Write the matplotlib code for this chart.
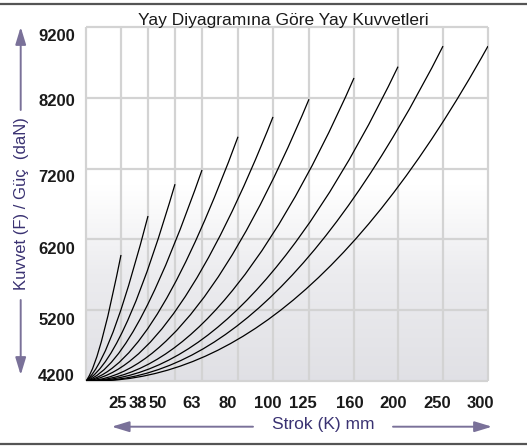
import numpy as np
import matplotlib.pyplot as plt
from matplotlib.path import Path
from matplotlib.patches import PathPatch
from matplotlib.lines import Line2D

plt.rcParams['font.family'] = ['Liberation Sans', 'DejaVu Sans']

# stroke sizes (mm) and spring force (daN)
strokes = ['25', '38', '50', '63', '80', '100', '125', '160', '200', '250', '300']
force_start = 4200
force_third = [4580, 4670, 4710, 4710, 4730, 4720, 4690, 4680, 4670, 4670, 4650]
force_two_thirds = [5210, 5490, 5680, 5760, 5930, 6000, 6040, 6100, 6130, 6220, 6180]
force_end = [5980, 6530, 6980, 7180, 7650, 7930, 8180, 8480, 8640, 8930, 8930]
force_ticks = [4200, 5200, 6200, 7200, 8200, 9200]

# uneven horizontal layout of the original grid
grid_x = [0, 35, 62, 89, 116, 152, 187, 223, 268, 312, 357, 402]
label_x = [31.5, 51.5, 72, 106, 142, 181.5, 217, 264, 307, 351, 394]
label_y = [4285, 5080, 6080, 7100, 8170, 9088]

TEXT_C = '#3a3272'
ARROW_C = '#7a7199'
GRID_C = '#d3d3d3'


def _curve(ax, x_end, f1, f2, f_end):
    """Cubic bezier from the start force through the 1/3 and 2/3 readings."""
    p0 = np.array([0.0, force_start])
    p3 = np.array([x_end, f_end])
    q1 = np.array([x_end / 3, f1])
    q2 = np.array([2 * x_end / 3, f2])
    a = 27 * q1 - 8 * p0 - p3
    b = 27 * q2 - p0 - 8 * p3
    p1 = (2 * a - b) / 18
    p2 = (2 * b - a) / 18
    path = Path([p0, p1, p2, p3], [Path.MOVETO, Path.CURVE4, Path.CURVE4, Path.CURVE4])
    ax.add_patch(PathPatch(path, fill=False, color='black', lw=0.9, zorder=3))


def _arrow(ax, tail, tip):
    ax.annotate('', xy=tip, xytext=tail, xycoords='figure pixels',
                textcoords='figure pixels',
                arrowprops=dict(arrowstyle='-|>,head_length=1.05,head_width=0.32',
                                color=ARROW_C, lw=1.4, shrinkA=0, shrinkB=0,
                                mutation_scale=10))


fig = plt.figure(figsize=(5.27, 4.46), dpi=100)
ax = fig.add_axes([86 / 527, 65 / 446, 402 / 527, 354 / 446])
ax.set_xlim(grid_x[0], grid_x[-1])
ax.set_ylim(force_ticks[0], force_ticks[-1])
ax.set_frame_on(False)

# background gradient: white on top, light grey at the bottom
f = np.linspace(0, 1, 256)
g = np.interp(f, [0, 0.3, 0.55, 1], [0.88, 0.925, 1.0, 1.0])
rgb = np.dstack([g, g, g + (1 - g) * 0.15]).reshape(256, 1, 3)
ax.imshow(rgb, extent=[grid_x[0], grid_x[-1], force_ticks[0], force_ticks[-1]],
          origin='lower', aspect='auto', zorder=0)

ax.vlines(grid_x, force_ticks[0], force_ticks[-1], colors=GRID_C, lw=1.6,
          zorder=1, clip_on=False)
ax.hlines(force_ticks, grid_x[0], grid_x[-1], colors=GRID_C, lw=1.6,
          zorder=1, clip_on=False)

for i in range(len(strokes)):
    _curve(ax, grid_x[i + 1], force_third[i], force_two_thirds[i], force_end[i])

ax.set_xticks(label_x, strokes)
ax.set_yticks(label_y, [str(v) for v in force_ticks])
ax.tick_params(length=0, labelsize=12)
ax.tick_params(axis='x', pad=11)
ax.tick_params(axis='y', pad=8)
for lab in ax.get_xticklabels() + ax.get_yticklabels():
    lab.set_fontweight('bold')
    lab.set_color('#1a1a1a')

fig.text(283.5 / 527, (446 - 25) / 446, 'Yay Diyagramına Göre Yay Kuvvetleri',
         ha='center', va='baseline', fontsize=12.5, color='#1a1a1a')
fig.text(22 / 527, 242.5 / 446, 'Kuvvet (F) / Güç  (daN)', rotation=90,
         ha='center', va='center', fontsize=12, color=TEXT_C)
fig.text(323 / 527, 21 / 446, 'Strok (K) mm', ha='center', va='center',
         fontsize=12.5, color=TEXT_C)

_arrow(ax, (20.7, 336), (20.7, 419))
_arrow(ax, (20.7, 146), (20.7, 71))
_arrow(ax, (253, 19.3), (111.7, 19.3))
_arrow(ax, (393, 19.3), (492, 19.3))

fig.add_artist(Line2D([0, 1], [1 - 3.5 / 446] * 2, color='#555555', lw=1.6,
                      transform=fig.transFigure))
fig.add_artist(Line2D([0, 1], [1.8 / 446] * 2, color='#555555', lw=1.6,
                      transform=fig.transFigure))

fig.savefig('out.png', dpi=100)
